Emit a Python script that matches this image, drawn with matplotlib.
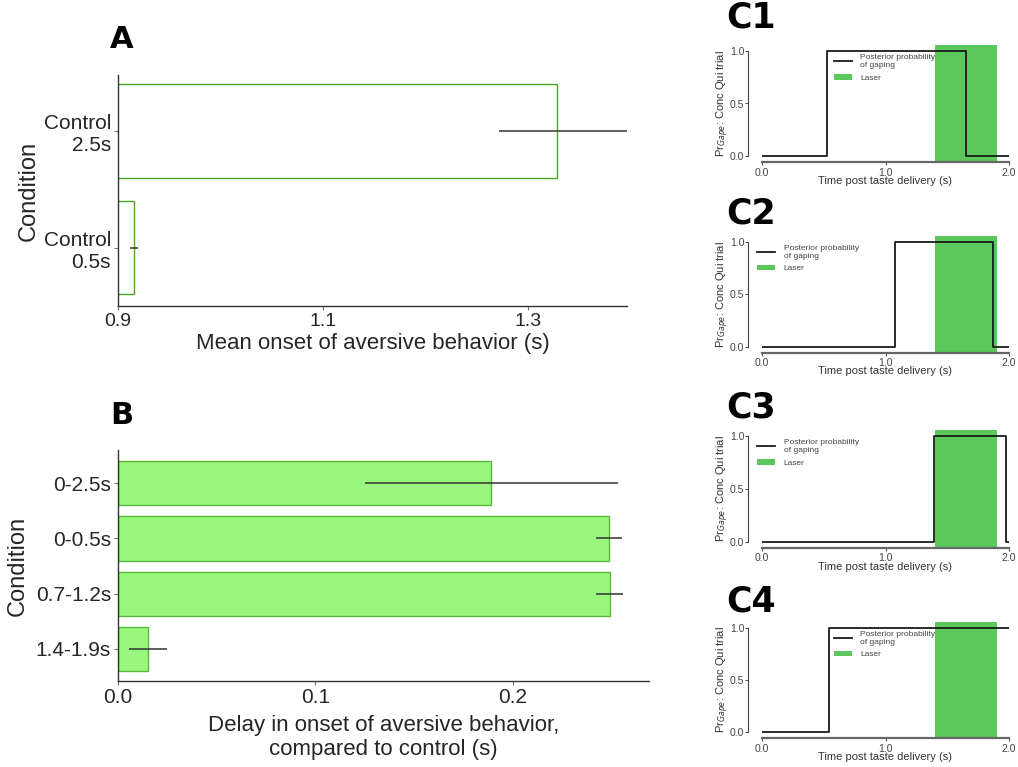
import matplotlib
matplotlib.use('Agg')
import matplotlib.pyplot as plt
import numpy as np

# Panel A: control onset of aversive behaviour
a_conditions = ['Control\n2.5s', 'Control\n0.5s']
a_means = [1.329, 0.9156]
a_err_low = [0.057, 0.004]
a_err_high = [0.068, 0.004]

# Panel B: delay in onset compared to control
b_conditions = ['0-2.5s', '0-0.5s', '0.7-1.2s', '1.4-1.9s']
b_delays = [0.189, 0.2486, 0.249, 0.0152]
b_errors = [0.064, 0.0064, 0.0068, 0.0094]

# Panels C1-C4: posterior probability of gaping on single trials
c_labels = ['C1', 'C2', 'C3', 'C4']
c_times = [[0.0, 0.53, 1.65, 2.0],
           [0.0, 1.08, 1.87, 2.0],
           [0.0, 1.39, 1.975, 2.0],
           [0.0, 0.545, 2.0]]
c_probs = [[0, 1, 0, 0],
           [0, 1, 0, 0],
           [0, 1, 0, 0],
           [0, 1, 1]]
laser_on, laser_off = 1.4, 1.9

sans = ['Liberation Sans', 'DejaVu Sans']
dark = '#262626'

W, H = 1018, 767
fig = plt.figure(figsize=(W / 100, H / 100), dpi=100)


def px_axes(left, top, right, bottom):
    return fig.add_axes([left / W, 1 - bottom / H, (right - left) / W, (bottom - top) / H])


def style_bar_axes(ax, xsize):
    for s in ['top', 'right']:
        ax.spines[s].set_visible(False)
    for s in ['left', 'bottom']:
        ax.spines[s].set_color('#333333')
        ax.spines[s].set_linewidth(1.0)
    ax.tick_params(length=3, width=0.8, color='#777777', pad=2, labelcolor=dark)
    for lab in ax.get_yticklabels():
        lab.set_family(sans)
        lab.set_fontsize(15)
    for lab in ax.get_xticklabels():
        lab.set_family(sans)
        lab.set_fontsize(xsize)


# ---- A ----
axA = px_axes(118, 75, 627, 306)
ya = np.arange(len(a_conditions))
axA.barh(ya, a_means, height=0.8, color='white', edgecolor='#4aa82a', linewidth=1.0)
axA.errorbar(a_means, ya, xerr=[a_err_low, a_err_high], fmt='none', ecolor='#333333', elinewidth=1.1)
axA.set_yticks(ya)
axA.set_yticklabels(a_conditions)
axA.set_xticks([0.9, 1.1, 1.3])
axA.set_xticklabels(['0.9', '1.1', '1.3'])
axA.set_xlim(0.9, 1.397)
axA.set_ylim(1.5, -0.48)
style_bar_axes(axA, 14)
axA.set_xlabel('Mean onset of aversive behavior (s)', family=sans, fontsize=16, color=dark)
axA.set_ylabel('Condition', family=sans, fontsize=17, color=dark)
axA.xaxis.set_label_coords(0.5, -0.115)
axA.yaxis.set_label_coords(-0.153, 0.5)

# ---- B ----
axB = px_axes(118, 450, 649, 681)
yb = np.arange(len(b_conditions))
axB.barh(yb, b_delays, height=0.8, color='#98f77c', edgecolor='#5cb83a', linewidth=1.0)
axB.errorbar(b_delays, yb, xerr=b_errors, fmt='none', ecolor='#333333', elinewidth=1.1)
axB.set_yticks(yb)
axB.set_yticklabels(b_conditions)
axB.set_xticks([0.0, 0.1, 0.2])
axB.set_xticklabels(['0.0', '0.1', '0.2'])
axB.set_xlim(0, 0.2689)
axB.set_ylim(3.58, -0.6)
style_bar_axes(axB, 15)
axB.set_xlabel('Delay in onset of aversive behavior,\ncompared to control (s)',
               family=sans, fontsize=16, color=dark, linespacing=1.2)
axB.set_ylabel('Condition', family=sans, fontsize=17, color=dark)
axB.xaxis.set_label_coords(0.5, -0.148)
axB.yaxis.set_label_coords(-0.169, 0.5)

fig.text(110 / W, 1 - 40 / H, 'A', fontsize=22, fontweight='bold', ha='left', va='center')
fig.text(110 / W, 1 - 415 / H, 'B', fontsize=22, fontweight='bold', ha='left', va='center')

# ---- C panels ----
c_tops = [45, 236, 430, 622]
c_bottoms = [162, 352.5, 547.5, 738]
c_label_y = [18, 213, 407, 602]
c_legend_anchor = [(0.26, 0.99), (-0.05, 0.99), (-0.05, 0.99), (0.26, 0.99)]

for i in range(4):
    ax = px_axes(762, c_tops[i], 1009, c_bottoms[i])
    ax.axvspan(laser_on, laser_off, color='#5ac85a', lw=0, label='Laser')
    ax.plot(c_times[i], c_probs[i], drawstyle='steps-post', color='#1a1a1a', lw=1.3,
            label='Posterior probability\nof gaping')
    ax.set_xlim(0, 2)
    ax.set_ylim(-0.055, 1.055)
    ax.set_xticks([0, 1, 2])
    ax.set_xticklabels(['0.0', '1.0', '2.0'])
    ax.set_yticks([0, 0.5, 1])
    ax.set_yticklabels(['0.0', '0.5', '1.0'])
    for s in ['top', 'right']:
        ax.spines[s].set_visible(False)
    ax.spines['left'].set_position(('outward', 10))
    ax.spines['left'].set_bounds(0, 1)
    ax.spines['left'].set_color('#444444')
    ax.spines['bottom'].set_color('#666666')
    ax.spines['bottom'].set_linewidth(1.6)
    ax.tick_params(axis='y', length=2, width=0.8, color='#555555', pad=0.8, labelsize=7.5, labelcolor='#444444')
    ax.tick_params(axis='x', length=2, width=0.8, color='#555555', pad=2, labelsize=7.5, labelcolor='#444444')
    for lab in ax.get_xticklabels() + ax.get_yticklabels():
        lab.set_family(sans)
    ax.set_xlabel('Time post taste delivery (s)', family=sans, fontsize=8, color='#333333')
    ax.set_ylabel('Pr$_{Gape}$: Conc Qui trial', family=sans, fontsize=8, color='#333333')
    ax.xaxis.set_label_coords(0.5, -0.12)
    ax.yaxis.set_label_coords(-0.125, 0.5)
    handles, labels = ax.get_legend_handles_labels()
    ax.legend(handles[::-1], labels[::-1], loc='upper left', bbox_to_anchor=c_legend_anchor[i],
              frameon=False, prop={'family': sans, 'size': 6}, labelcolor='#444444',
              handlelength=2.2, handletextpad=1.0, labelspacing=0.6)
    fig.text(726 / W, 1 - c_label_y[i] / H, c_labels[i], fontsize=25, fontweight='bold',
             ha='left', va='center')

fig.savefig('out.png', dpi=100)
